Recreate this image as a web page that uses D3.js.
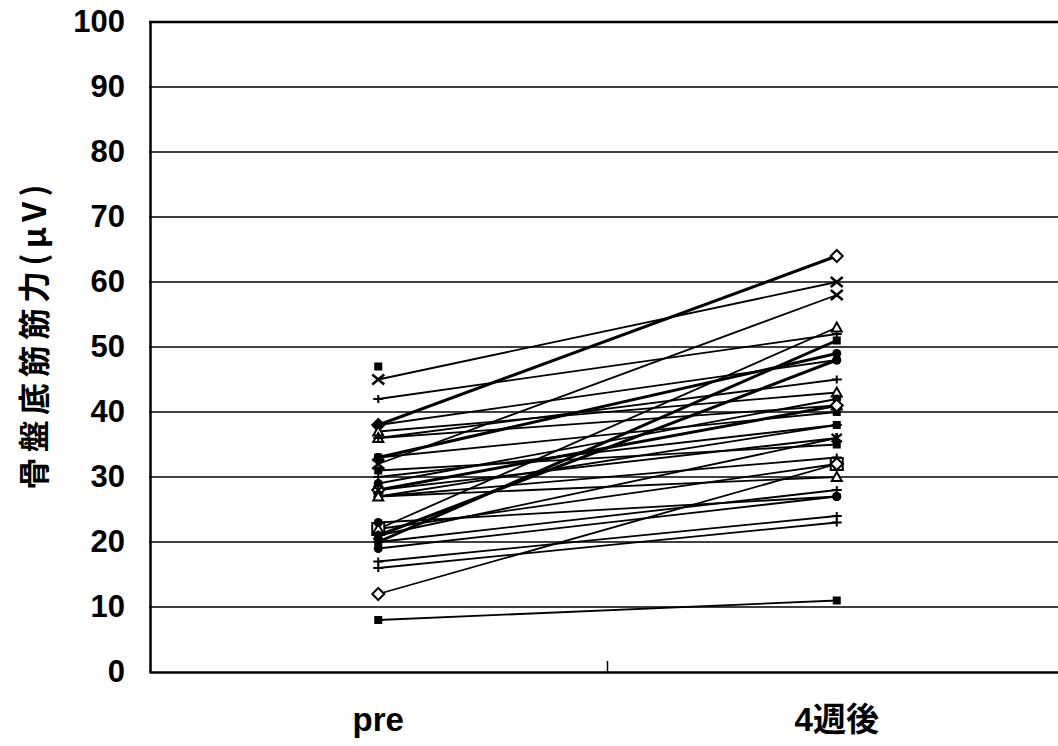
<!DOCTYPE html>
<html><head><meta charset="utf-8">
<script src="https://cdn.jsdelivr.net/npm/d3@7"></script>
<style>body{margin:0;background:#fff}svg{display:block}</style>
</head><body>
<svg id="c" width="1058" height="746"></svg>
<script>
const categories = ["pre", "4週後"];
const yTicks = [0,10,20,30,40,50,60,70,80,90,100];
const preValues  = [47, 45, 42, 38, 38, 37, 36, 36, 33, 33, 32, 31, 30, 29, 28, 28, 27, 27, 27, 22, 22, 21, 20, 20, 19, 17, 16, 12, 8, 21, 23];
const postValues = [null, 60, 52, 64, 48, 43, 41, 45, 40, 49, 58, 35, 38, 42, 41, 36, 38, 33, 30, 32, 53, 48, 51, 28, 27, 24, 23, 32, 11, 36, 27];
const markerTypes = ["square","cross","plus","diamond","circle","tri","tri","plus","square","circle","cross","square","plus","circle","diamond","star","square","plus","tri","bigsquare","tri","circle","square","plus","circle","plus","plus","diamond","square","star","circle"];
const thickIdx = [3, 14, 9, 22, 21];

const svg = d3.select("#c");
const x = d3.scaleBand().domain(categories).range([149, 1066]);
const y = d3.scaleLinear().domain([0, 100]).range([672, 22]);
const cx = c => x(c) + x.bandwidth()/2;

// gridlines
svg.append("g").selectAll("line").data(yTicks.filter(d => d > 0)).join("line")
  .attr("x1", 149).attr("x2", 1058).attr("y1", d => y(d)).attr("y2", d => y(d))
  .attr("stroke", "#000").attr("stroke-width", d => d === 100 ? 2.5 : 1.5);

// axes
const ya = svg.append("g").attr("transform", "translate(150,0)")
  .call(d3.axisLeft(y).tickValues(yTicks).tickSize(0).tickPadding(25));
ya.select(".domain").attr("stroke", "#000").attr("stroke-width", 2.5);
ya.selectAll("text").attr("font-family", "Liberation Sans, Arial, sans-serif")
  .attr("font-weight", "bold").attr("font-size", 31).attr("fill", "#000");

const xa = svg.append("g").attr("transform", "translate(0,672)")
  .call(d3.axisBottom(x).tickSize(0).tickPadding(36));
xa.select(".domain").attr("stroke", "#000").attr("stroke-width", 2.5);
xa.selectAll("text").attr("font-family", "Liberation Sans, 'Noto Sans CJK JP', sans-serif")
  .attr("font-weight", "bold").attr("font-size", 33).attr("fill", "#000");
// divider tick between categories
svg.append("line").attr("x1", x(categories[1])).attr("x2", x(categories[1]))
  .attr("y1", 661).attr("y2", 672).attr("stroke", "#000").attr("stroke-width", 1.5);

// y-axis title
svg.append("text").attr("transform", "translate(46,337) rotate(-90)")
  .attr("text-anchor", "middle").attr("font-family", "'Noto Sans CJK JP', sans-serif")
  .attr("font-weight", "bold").attr("font-size", 32)
  .attr("textLength", 305).attr("lengthAdjust", "spacing").text("骨盤底筋筋力(μV)");

// subject lines
const subjects = preValues.map((p, i) => ({pre: p, post: postValues[i], m: markerTypes[i], i}));
const g = svg.append("g");
g.selectAll("line.s").data(subjects.filter(d => d.post !== null)).join("line")
  .attr("class", "s")
  .attr("x1", cx(categories[0])).attr("x2", cx(categories[1]))
  .attr("y1", d => y(d.pre)).attr("y2", d => y(d.post))
  .attr("stroke", "#000").attr("stroke-width", d => thickIdx.includes(d.i) ? 3 : 1.8);

function drawMarker(sel, type) {
  const s = 4;
  if (type === "square") sel.append("rect").attr("x", -s).attr("y", -s).attr("width", 2*s).attr("height", 2*s).attr("fill", "#000");
  else if (type === "bigsquare") sel.append("rect").attr("x", -6).attr("y", -6).attr("width", 12).attr("height", 12).attr("fill", "#fff").attr("stroke", "#000").attr("stroke-width", 2);
  else if (type === "diamond") sel.append("path").attr("d", "M0,-6L6,0L0,6L-6,0Z").attr("fill", "#fff").attr("stroke", "#000").attr("stroke-width", 2);
  else if (type === "circle") sel.append("circle").attr("r", 4.5).attr("fill", "#000");
  else if (type === "tri") sel.append("path").attr("d", "M0,-5L5,4L-5,4Z").attr("fill", "#fff").attr("stroke", "#000").attr("stroke-width", 2);
  else if (type === "cross") sel.append("path").attr("d", "M-6,-5L6,5M-6,5L6,-5").attr("stroke", "#000").attr("stroke-width", 2.5);
  else if (type === "plus") sel.append("path").attr("d", "M-5,0L5,0M0,-4L0,4").attr("stroke", "#000").attr("stroke-width", 2);
  else if (type === "star") sel.append("path").attr("d", "M-5,-4L5,4M-5,4L5,-4M0,-5L0,5").attr("stroke", "#000").attr("stroke-width", 2.2);
}

subjects.forEach(d => {
  drawMarker(g.append("g").attr("transform", `translate(${cx(categories[0])},${y(d.pre)})`), d.m);
  if (d.post !== null) drawMarker(g.append("g").attr("transform", `translate(${cx(categories[1])},${y(d.post)})`), d.m);
});
</script>
</body></html>
